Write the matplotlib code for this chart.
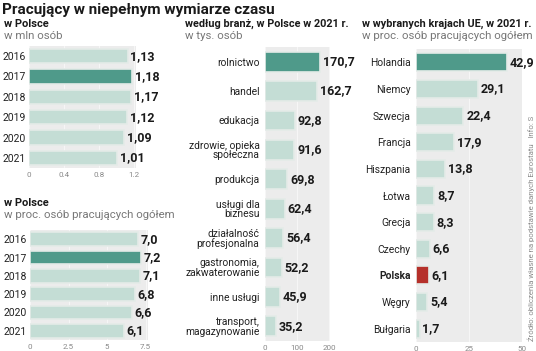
import numpy as np
import matplotlib.pyplot as plt

plt.rcParams['font.family'] = ['Roboto', 'DejaVu Sans']

# dane
lata = ['2016', '2017', '2018', '2019', '2020', '2021']
mln_osob = [1.13, 1.18, 1.17, 1.12, 1.09, 1.01]
proc_osob = [7.0, 7.2, 7.1, 6.8, 6.6, 6.1]

branze = ['rolnictwo', 'handel', 'edukacja', 'zdrowie, opieka\nspołeczna', 'produkcja',
          'usługi dla\nbiznesu', 'działalność\nprofesjonalna', 'gastronomia,\nzakwaterowanie',
          'inne usługi', 'transport,\nmagazynowanie']
tys_osob = [170.7, 162.7, 92.8, 91.6, 69.8, 62.4, 56.4, 52.2, 45.9, 35.2]

kraje = ['Holandia', 'Niemcy', 'Szwecja', 'Francja', 'Hiszpania', 'Łotwa', 'Grecja',
         'Czechy', 'Polska', 'Węgry', 'Bułgaria']
proc_ue = [42.9, 29.1, 22.4, 17.9, 13.8, 8.7, 8.3, 6.6, 6.1, 5.4, 1.7]

W, H = 536, 351
LIGHT = '#c4ddd5'
DARK = '#4f9a8a'
RED = '#b5302a'
BG = '#ececec'

fig = plt.figure(figsize=(W / 100, H / 100), dpi=100, facecolor='white')


def px_axes(left, top, right, bottom):
    return fig.add_axes([left / W, 1 - bottom / H, (right - left) / W, (bottom - top) / H])


def panel(ax, labels, values, colors, xmax, ticks, ticklabels, fmt, hgt, lab_size=7.4, ypad=4):
    y = np.arange(len(values))
    ax.set_facecolor(BG)
    ax.barh(y, values, height=hgt, color=colors, edgecolor='#e4ebe8', linewidth=1.2, zorder=3)
    for yi, v in zip(y, values):
        ax.annotate(fmt(v), (v, yi), xytext=(2, 0), textcoords='offset points',
                    va='center', ha='left', fontsize=9, fontweight='bold',
                    color='#1a1a1a', annotation_clip=False, zorder=4)
    ax.set_ylim(len(values) - 0.5, -0.5)
    ax.set_xlim(0, xmax)
    ax.set_yticks(y)
    ax.set_yticklabels(labels, fontsize=lab_size, color='#222222', linespacing=0.95)
    ax.set_xticks(ticks)
    ax.set_xticklabels(ticklabels, fontsize=5.8, color='#888888')
    ax.tick_params(length=0, pad=3)
    ax.tick_params(axis='y', pad=ypad)
    ax.grid(axis='x', color='#f6f6f6', linewidth=0.8, zorder=1)
    for s in ax.spines.values():
        s.set_visible(False)


def pl(v, d):
    return f'{v:.{d}f}'.replace('.', ',')


# tytul
fig.text(2 / W, 1 - 10 / H, 'Pracujący w niepełnym wymiarze czasu', fontsize=11,
         fontweight='bold', color='#1a1a1a', va='center', ha='left')

# panel 1
fig.text(4 / W, 1 - 24 / H, 'w Polsce', fontsize=8, fontweight='bold', va='center', color='#1a1a1a')
fig.text(4 / W, 1 - 36 / H, 'w mln osób', fontsize=8.2, va='center', color='#777777')
ax1 = px_axes(29, 46, 136, 168)
panel(ax1, lata, mln_osob, [LIGHT, DARK, LIGHT, LIGHT, LIGHT, LIGHT], 1.225,
      [0, 0.4, 0.8, 1.2], ['0', '0.4', '0.8', '1.2'], lambda v: pl(v, 2), 0.72, 7.5, 2.5)

# panel 2
fig.text(4 / W, 1 - 203 / H, 'w Polsce', fontsize=8, fontweight='bold', va='center', color='#1a1a1a')
fig.text(4 / W, 1 - 215 / H, 'w proc. osób pracujących ogółem', fontsize=8.2, va='center',
         color='#777777')
ax2 = px_axes(30, 230, 148, 340)
panel(ax2, lata, proc_osob, [LIGHT, DARK, LIGHT, LIGHT, LIGHT, LIGHT], 7.65,
      [0, 2.5, 5, 7.5], ['0', '2.5', '5', '7.5'], lambda v: pl(v, 1), 0.75, 7.5, 2.5)

# panel 3
fig.text(185 / W, 1 - 24 / H, 'według branż, w Polsce w 2021 r.', fontsize=7.8, fontweight='bold',
         va='center', color='#1a1a1a')
fig.text(185 / W, 1 - 36 / H, 'w tys. osób', fontsize=8.2, va='center', color='#777777')
ax3 = px_axes(265, 47, 330, 341)
panel(ax3, branze, tys_osob, [DARK] + [LIGHT] * 9, 202,
      [0, 100, 200], ['0', '100', '200'], lambda v: pl(v, 1), 0.68)

# panel 4
fig.text(362 / W, 1 - 24 / H, 'w wybranych krajach UE, w 2021 r.', fontsize=7.8, fontweight='bold',
         va='center', color='#1a1a1a')
fig.text(362 / W, 1 - 36 / H, 'w proc. osób pracujących ogółem', fontsize=8.2, va='center',
         color='#777777')
ax4 = px_axes(416, 49, 522, 342)
kol4 = [DARK] + [LIGHT] * 7 + [RED] + [LIGHT] * 2
panel(ax4, kraje, proc_ue, kol4, 50,
      [0, 25, 50], ['0', '25', '50'], lambda v: pl(v, 1), 0.68)
ax4.get_yticklabels()[8].set_fontweight('bold')

# zrodlo
fig.text(531 / W, 1 - 341 / H,
         'Źródło: obliczenia własne na podstawie danych Eurostatu   Info: S',
         rotation=90, fontsize=5.6, color='#8a8a8a', ha='center', va='bottom')

plt.savefig('out.png', dpi=100, facecolor='white')
